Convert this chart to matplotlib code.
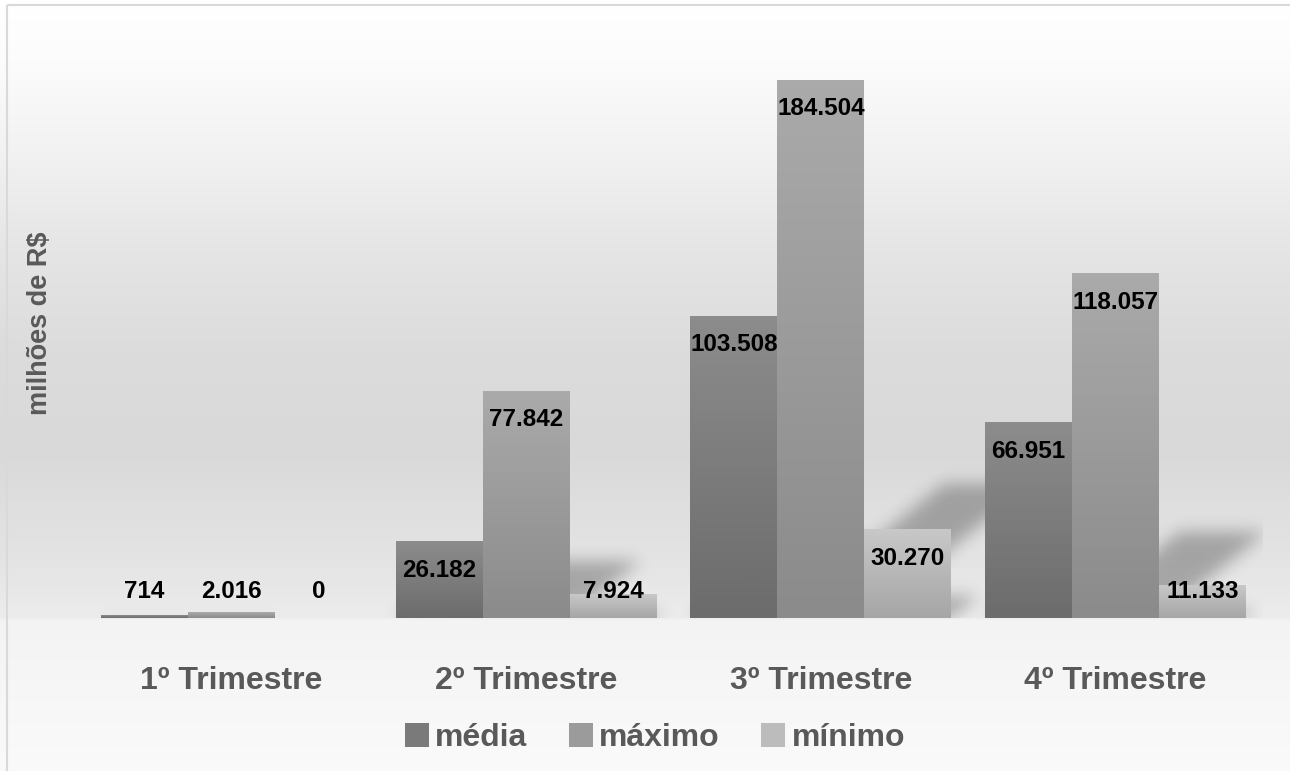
import numpy as np
import matplotlib
matplotlib.use("Agg")
import matplotlib.pyplot as plt
from matplotlib.patches import Patch, Rectangle
from matplotlib.colors import LinearSegmentedColormap, to_rgb

plt.rcParams['font.family'] = ['Liberation Sans', 'DejaVu Sans']

trimestres = ["1º Trimestre", "2º Trimestre", "3º Trimestre", "4º Trimestre"]
series = ["média", "máximo", "mínimo"]
media = [714, 26182, 103508, 66951]
maximo = [2016, 77842, 184504, 118057]
minimo = [0, 7924, 30270, 11133]
valores = [media, maximo, minimo]

# cor do topo e da base de cada série (gradiente vertical)
cores = [("#8c8c8c", "#6c6c6c"), ("#aaaaaa", "#8b8b8b"), ("#c8c8c8", "#a6a6a6")]
cor_legenda = ["#7a7a7a", "#9b9b9b", "#bcbcbc"]
texto_cinza = "#595959"

W, H, DPI = 1290, 771, 100
fig = plt.figure(figsize=(W / DPI, H / DPI), dpi=DPI)

# fundo do gráfico: gradiente cinza claro
bg = fig.add_axes([0, 0, 1, 1], zorder=-10)
pos = [0, 60, 150, 250, 350, 450, 560, 617, 620, 700, 771]
tons = [255, 252, 242, 229, 220, 217, 228, 236, 243, 247, 250]
grad = np.interp(np.arange(H), pos, tons) / 255.0
bg_img = np.repeat(grad[:, None], 4, axis=1)
bg.imshow(np.dstack([bg_img] * 3), aspect="auto", extent=[0, W, H, 0],
          interpolation="nearest")
bg.add_patch(Rectangle((0, 0), W, 5, color="white", zorder=2))
bg.add_patch(Rectangle((7, 5), W + 10, H + 10, fill=False, ec="#d9d9d9", lw=1.5, zorder=3))
bg.set_xlim(0, W)
bg.set_ylim(H, 0)
bg.axis("off")

# área de plotagem
x_left, x_right = 84.2, 1262.8
base_px, top_px = 617.5, 34.7
ax = fig.add_axes([x_left / W, 1 - base_px / H, (x_right - x_left) / W, (base_px - top_px) / H])
ax.patch.set_alpha(0)
ymax = 200000
ax.set_xlim(-0.5, 3.5)
ax.set_ylim(0, ymax)
for s in ax.spines.values():
    s.set_visible(False)
ax.set_yticks([])
ax.tick_params(axis="x", length=0, pad=35)
ax.set_xticks(range(len(trimestres)))
ax.set_xticklabels(trimestres, fontsize=23, fontweight="bold", color=texto_cinza)

aw, ah = x_right - x_left, base_px - top_px
ppc = aw / 4.0        # pixels por categoria
ppv = ah / ymax       # pixels por unidade de valor

largura = 0.295
offsets = [-largura, 0, largura]
sombra_skew, sombra_escala = 0.31, 0.25

# sombras em perspectiva: máscara em pixels, depois desfocada
gx = np.arange(int(aw)) + 0.5
gy = np.arange(int(ah)) + 0.5
PX, PY = np.meshgrid(gx, gy)
mask = np.zeros_like(PX)
for i, vals in enumerate(valores):
    for j, v in enumerate(vals):
        if v <= 0:
            continue
        c = j + offsets[i] + 0.5
        x0 = (c - largura / 2) * ppc
        x1 = (c + largura / 2) * ppc
        h = v * ppv
        shift = PY * sombra_skew / sombra_escala
        inside = (PY <= sombra_escala * h) & (PX >= x0 + shift) & (PX <= x1 + shift)
        mask[inside] = 1.0
sigma = 8
k = np.exp(-0.5 * (np.arange(-3 * sigma, 3 * sigma + 1) / sigma) ** 2)
k /= k.sum()
mask = np.apply_along_axis(lambda r: np.convolve(r, k, mode="same"), 0, mask)
mask = np.apply_along_axis(lambda r: np.convolve(r, k, mode="same"), 1, mask)
sombra = np.zeros(mask.shape + (4,))
sombra[..., 3] = mask * 0.28
ax.imshow(sombra, origin="lower", extent=[-0.5, 3.5, 0, ymax], aspect="auto",
          interpolation="bilinear", zorder=1)

for i, (vals, (c_top, c_bot)) in enumerate(zip(valores, cores)):
    xs = np.arange(len(vals)) + offsets[i]
    bars = ax.bar(xs, vals, width=largura, color=c_bot, zorder=3, linewidth=0)
    cmap = LinearSegmentedColormap.from_list("g%d" % i, [to_rgb(c_bot), to_rgb(c_top)])
    for b, v in zip(bars, vals):
        x0, x1 = b.get_x(), b.get_x() + b.get_width()
        if v > 0:
            ax.imshow(np.linspace(0, 1, 64)[:, None], cmap=cmap, origin="lower",
                      extent=[x0, x1, 0, v], aspect="auto", zorder=3.5,
                      interpolation="bilinear")
        # rótulo de dados
        y_lab = max(v - 29 / ppv, 26 / ppv)
        ax.text(b.get_x() + b.get_width() / 2, y_lab, f"{v:,}".replace(",", "."),
                ha="center", va="center", fontsize=17.5, fontweight="bold",
                color="black", zorder=5)

ax.set_xlim(-0.5, 3.5)
ax.set_ylim(0, ymax)

fig.text(40 / W, 1 - 323 / H, "milhões de R$", rotation=90, ha="center", va="center",
         fontsize=19.5, fontweight="bold", color=texto_cinza)

handles = [Patch(facecolor=c, edgecolor="none") for c in cor_legenda]
leg = fig.legend(handles, series, loc="center", bbox_to_anchor=(655 / W, 1 - 738 / H),
                 ncol=3, frameon=False, handlelength=0.75, handleheight=0.75,
                 handletextpad=0.2, columnspacing=1.3,
                 prop={"size": 23, "weight": "bold"})
for t in leg.get_texts():
    t.set_color(texto_cinza)

fig.savefig("out.png", dpi=DPI)
